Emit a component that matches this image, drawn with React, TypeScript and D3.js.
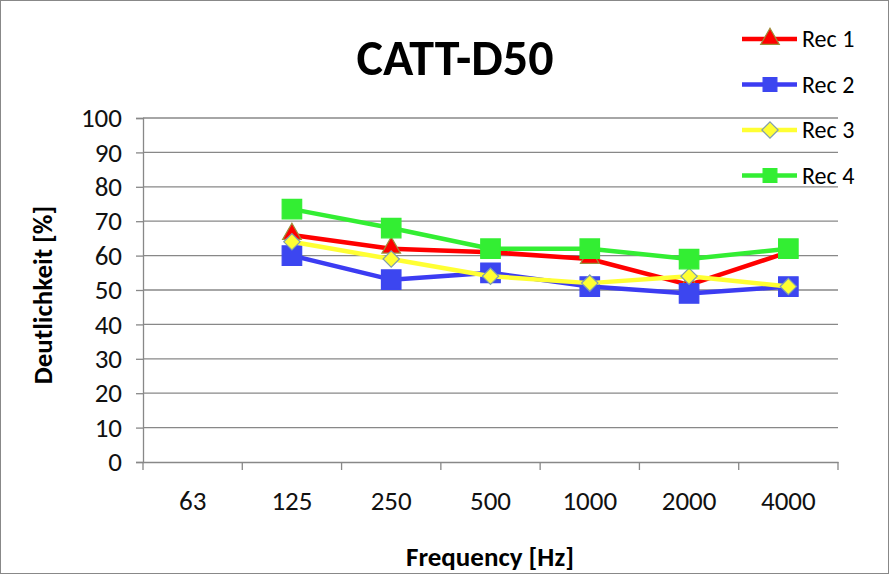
import React, { useEffect, useRef } from 'react';
import * as d3 from 'd3';

const categories = ['63', '125', '250', '500', '1000', '2000', '4000'];
const rec1 = [null, 66, 62, 61, 59, 51.5, 61];
const rec2 = [null, 60, 53, 55, 51, 49, 51];
const rec3 = [null, 64, 59, 54, 52, 54, 51];
const rec4 = [null, 73.5, 68, 62, 62, 59, 62];
const yTicks = [0, 10, 20, 30, 40, 50, 60, 70, 80, 90, 100];

const series = [
  { name: 'Rec 1', values: rec1, color: '#ff0000', marker: 'triangle', mFill: '#ff0000', mStroke: '#9c8f3a' },
  { name: 'Rec 2', values: rec2, color: '#3c3cf2', marker: 'square', mFill: '#3c46f0', mStroke: '#3c46f0' },
  { name: 'Rec 3', values: rec3, color: '#ffff33', marker: 'diamond', mFill: '#ffff33', mStroke: '#7f9cb0' },
  { name: 'Rec 4', values: rec4, color: '#33ee33', marker: 'square', mFill: '#33ee33', mStroke: '#33ee33' },
];

const font = 'Calibri, Carlito, "Open Sans", "Liberation Sans", sans-serif';

const App = () => {
  const svgRef = useRef<SVGSVGElement>(null);

  useEffect(() => {
    document.body.style.margin = '0';
    const width = 889;
    const height = 574;
    const left = 143;
    const right = 838;
    const top = 118;
    const bottom = 462;

    const svg = d3.select(svgRef.current);
    svg.selectAll('*').remove();
    svg.attr('width', width).attr('height', height);

    svg.append('rect')
      .attr('x', 0.5).attr('y', 0.5)
      .attr('width', width - 1).attr('height', height - 1)
      .attr('fill', '#fff').attr('stroke', '#888');

    const x = d3.scaleBand().domain(categories).range([left, right]);
    const y = d3.scaleLinear().domain([0, 100]).range([bottom, top]);

    // gridlines
    svg.append('g')
      .selectAll('line')
      .data(yTicks.filter(d => d > 0))
      .enter()
      .append('line')
      .attr('x1', left).attr('x2', right)
      .attr('y1', d => y(d)).attr('y2', d => y(d))
      .attr('stroke', '#888').attr('stroke-width', 1.3);

    // y axis
    const yAxis = svg.append('g')
      .attr('transform', `translate(${left},0)`)
      .call(d3.axisLeft(y).tickValues(yTicks).tickSize(7).tickPadding(14));
    yAxis.select('.domain').attr('stroke', '#888').attr('stroke-width', 1.3);
    yAxis.selectAll('.tick line').attr('stroke', '#888').attr('stroke-width', 1.3);
    yAxis.selectAll('.tick text')
      .attr('fill', '#111')
      .style('font-family', font)
      .style('font-size', '27px');

    // x axis
    const xAxis = svg.append('g')
      .attr('transform', `translate(0,${bottom})`)
      .call(d3.axisBottom(x).tickSize(0).tickPadding(29));
    xAxis.select('.domain').attr('stroke', '#888').attr('stroke-width', 1.3);
    xAxis.selectAll('.tick text')
      .attr('fill', '#111')
      .style('font-family', font)
      .style('font-size', '27px');
    xAxis.selectAll('.bnd')
      .data(categories.concat(['end']))
      .enter()
      .append('line')
      .attr('x1', (d, i) => left + i * x.step())
      .attr('x2', (d, i) => left + i * x.step())
      .attr('y1', 0).attr('y2', 8)
      .attr('stroke', '#888').attr('stroke-width', 1.3);

    // title
    svg.append('text')
      .attr('x', 455).attr('y', 75)
      .attr('text-anchor', 'middle')
      .style('font-family', font)
      .style('font-weight', 'bold')
      .style('font-size', '50px')
      .text('CATT-D50');

    svg.append('text')
      .attr('transform', 'translate(52,295) rotate(-90)')
      .attr('text-anchor', 'middle')
      .style('font-family', font)
      .style('font-weight', 'bold')
      .style('font-size', '27px')
      .text('Deutlichkeit [%]');

    svg.append('text')
      .attr('x', 490).attr('y', 566)
      .attr('text-anchor', 'middle')
      .style('font-family', font)
      .style('font-weight', 'bold')
      .style('font-size', '27px')
      .text('Frequency [Hz]');

    const symbolFor = (m: string) => {
      if (m === 'triangle') return d3.symbol().type(d3.symbolTriangle).size(150)();
      if (m === 'diamond') return d3.symbol().type(d3.symbolDiamond2).size(170)();
      return d3.symbol().type(d3.symbolSquare).size(380)();
    };

    const line = d3.line<number | null>()
      .defined(d => d !== null)
      .x((d, i) => (x(categories[i]) as number) + x.bandwidth() / 2)
      .y(d => y(d as number));

    series.forEach((s, si) => {
      const g = svg.append('g');
      g.append('path')
        .attr('d', line(s.values))
        .attr('fill', 'none')
        .attr('stroke', s.color)
        .attr('stroke-width', 4.5)
        .attr('stroke-linejoin', 'round');
      g.selectAll('path.m')
        .data(s.values.map((v, i) => ({ v, i })).filter(d => d.v !== null))
        .enter()
        .append('path')
        .attr('class', 'm')
        .attr('d', symbolFor(s.marker))
        .attr('transform', d => `translate(${(x(categories[d.i]) as number) + x.bandwidth() / 2},${y(d.v as number) - (s.marker === 'triangle' ? 1 : 0)})`)
        .attr('fill', s.mFill)
        .attr('stroke', s.mStroke)
        .attr('stroke-width', 1.2);

      // legend
      const ly = 39 + si * 45.5;
      const lg = svg.append('g').attr('transform', `translate(0,${ly})`);
      lg.append('line')
        .attr('x1', 742).attr('x2', 797)
        .attr('y1', 0).attr('y2', 0)
        .attr('stroke', s.color).attr('stroke-width', 4.5);
      lg.append('path')
        .attr('d', s.marker === 'square' ? d3.symbol().type(d3.symbolSquare).size(190)() : symbolFor(s.marker))
        .attr('transform', 'translate(770,0)')
        .attr('fill', s.mFill)
        .attr('stroke', s.mStroke)
        .attr('stroke-width', 1.2);
      lg.append('text')
        .attr('x', 802).attr('y', 8)
        .style('font-family', font)
        .style('font-size', '24px')
        .text(s.name);
    });
  }, []);

  return <svg ref={svgRef}></svg>;
};

export default App;
